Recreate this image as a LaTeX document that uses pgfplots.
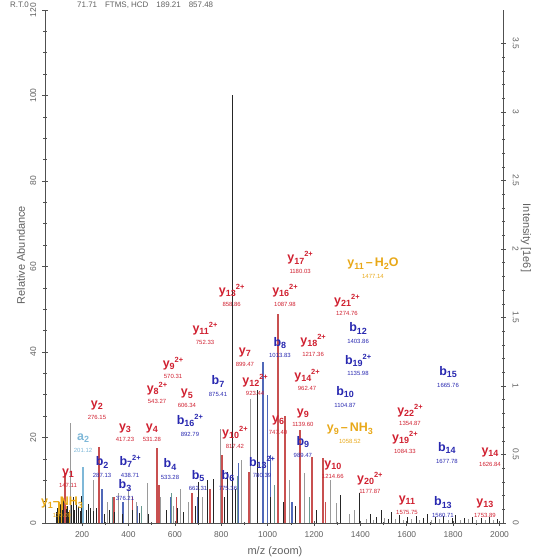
\documentclass[border=0pt]{standalone}
\usepackage{pgfplots}
\pgfplotsset{compat=1.18}
\usepackage{fontspec}
\setmainfont{Liberation Sans}
\definecolor{ionred}{HTML}{D02030}
\definecolor{ionblue}{HTML}{2828B0}
\definecolor{ionyel}{HTML}{E8A818}
\definecolor{ionlb}{HTML}{7FB8D8}
\definecolor{pkred}{HTML}{C85050}
\definecolor{pkblue}{HTML}{5068B8}
\definecolor{pkgray}{HTML}{9A9A9A}
\definecolor{pkteal}{HTML}{6A9A90}
\definecolor{axgray}{HTML}{505050}
\definecolor{lblgray}{HTML}{606060}
% x, y, color, letter, sub, sup, mass
\newcommand{\ion}[7]{\node[text=#3, align=center, inner sep=0pt, font=\fontsize{12.5}{12.5}\selectfont\bfseries] at (axis cs:#1,#2) {#4\raisebox{-0.35ex}{\fontsize{9}{9}\selectfont #5}\raisebox{0.8ex}{\fontsize{7.5}{7.5}\selectfont #6}\\[-1pt]{\fontsize{6}{6}\selectfont\mdseries #7}};}
\begin{document}
\begin{tikzpicture}
\useasboundingbox (-45bp,-37bp) rectangle (488bp,523bp);
\begin{axis}[
  at={(0,0)}, anchor=south west,
  width=458bp, height=513bp, scale only axis,
  xmin=40, xmax=2015, ymin=0, ymax=120,
  axis x line*=bottom, axis y line*=left,
  xtick={200,400,...,2000}, minor x tick num=1,
  ytick={0,20,...,120}, minor y tick num=3,
  tick align=center, major tick length=5bp, minor tick length=3bp,
  axis line style={axgray, line width=0.8pt}, tick style={axgray, line width=0.6pt},
  ticklabel style={font=\fontsize{8.5}{8.5}\selectfont, text=lblgray},
  /pgf/number format/assume math mode=true,
  /pgf/number format/set thousands separator={},
  yticklabel style={xshift=-6bp, rotate=90, anchor=south, inner sep=0pt},
  xticklabel style={anchor=north, inner sep=0pt, yshift=-6bp},
  clip=false,
]
% gray peaks
\addplot[ycomb, pkgray, line width=1pt] coordinates {
(148,23.4)(247,10)(310,5)(355,7)(398,8)(435,5)(480,9.4)(540,6)(595,4)(625,8)(660,5)(720,6)(795,22)(889,14.7)(924,29)(1096,10)(1161,11.7)(1269,10)(1299,4.7)(1352,2)(1376,3)
(1425,1.0)(1458,0.8)(1503,1.2)(1552,1.0)(1585,0.7)(1622,0.9)(1655,0.8)(1706,0.7)(1741,0.9)(1778,0.8)(1830,0.7)(1866,0.9)(1902,0.8)(1938,0.7)(1975,0.8)
};
% teal peaks
\addplot[ycomb, pkteal, line width=1pt] coordinates {
(205,5)(330,6)(455,4)(587,7)(750,8)(870,11)(1028,9)(1180,6)
};
% yellow
\addplot[ycomb, ionyel, line width=1.3pt] coordinates {
(100,5)(113,6)(130,4)(146,3)
};
% light blue
\addplot[ycomb, ionlb, line width=1.3pt] coordinates {(204,13)};
% blue
\addplot[ycomb, pkblue, line width=1.3pt] coordinates {
(286,8)(376,5)(438,4)(580,6)(700,6)(875,14)(980,37.7)(1000,30)(1013,16)(1105,5)
};
% red
\addplot[ycomb, pkred, line width=1.4pt] coordinates {
(126,11.7)(273,17.8)(338,6)(417,6)(523,17.5)(531,9)(606,6)(674,7)(752,8)(803,16)(920,12)(1045,49)(1075,25)(1140,21.8)(1191,15.4)(1239,15.2)(1250,5)
};
% black
\addplot[ycomb, black!85, line width=0.9pt] coordinates {
(88,2.5)(95,3.5)(102,2)(108,4.5)(115,3)(121,5.5)(131,3.2)(137,4)(142,2.5)(156,4.2)(163,6)(169,3)(176,5)(183,3.8)(191,2.8)(197,6.2)(219,3)(226,4.5)(236,3.6)(251,2.8)(262,3.5)(296,2.2)(318,3)(341,2.6)(372,2.2)(418,3)(446,2.4)(487,2.2)(563,3)(612,3.4)(639,2.6)(689,4)(702,9.6)(739,10)(765,10.2)(812,6)(828,12)(850,100)(862,8)(954,31)(1012,6)(1070,5)(1120,4)(1210,3)(1312,6.5)(1398,7)
(1442,2.2)(1471,1.5)(1489,3)(1520,0.9)(1536,2.5)(1568,1.8)(1601,1.4)(1640,1.6)(1672,1.2)(1690,2.0)(1723,1.3)(1760,1.7)(1795,1.1)(1812,1.9)(1848,1.2)(1884,1.5)(1920,1.1)(1957,1.3)(1993,1.0)
};
% red labels
\ion{139}{10.5}{ionred}{y}{1}{}{147.11}
\ion{264}{26.4}{ionred}{y}{2}{}{276.15}
\ion{385}{21.1}{ionred}{y}{3}{}{417.23}
\ion{501}{21.1}{ionred}{y}{4}{}{531.28}
\ion{523}{30.4}{ionred}{y}{8}{2+}{543.27}
\ion{592}{36.3}{ionred}{y}{9}{2+}{570.31}
\ion{652}{29.2}{ionred}{y}{5}{}{606.34}
\ion{730}{44.4}{ionred}{y}{11}{2+}{752.33}
\ion{845}{53.3}{ionred}{y}{13}{2+}{858.86}
\ion{1075}{53.3}{ionred}{y}{16}{2+}{1087.98}
\ion{1140}{61}{ionred}{y}{17}{2+}{1180.03}
\ion{1342}{51}{ionred}{y}{21}{2+}{1274.76}
\ion{1196}{41.6}{ionred}{y}{18}{2+}{1217.36}
\ion{1170}{33.5}{ionred}{y}{14}{2+}{962.47}
\ion{902}{38.8}{ionred}{y}{7}{}{899.47}
\ion{946}{32.3}{ionred}{y}{12}{2+}{923.44}
\ion{859}{20.1}{ionred}{y}{10}{2+}{817.42}
\ion{1045}{22.9}{ionred}{y}{6}{}{747.40}
\ion{1152}{24.6}{ionred}{y}{9}{}{1139.60}
\ion{1614}{25.3}{ionred}{y}{22}{2+}{1354.87}
\ion{1592}{18.9}{ionred}{y}{19}{2+}{1084.33}
\ion{1959}{15.4}{ionred}{y}{14}{}{1626.84}
\ion{1281}{12.4}{ionred}{y}{10}{}{1214.66}
\ion{1441}{9.4}{ionred}{y}{20}{2+}{1177.87}
\ion{1601}{4.2}{ionred}{y}{11}{}{1575.75}
\ion{1937}{3.5}{ionred}{y}{13}{}{1753.89}
% blue labels
\ion{286}{13.1}{ionblue}{b}{2}{}{287.13}
\ion{385}{7.7}{ionblue}{b}{3}{}{376.21}
\ion{407}{13.3}{ionblue}{b}{7}{2+}{438.71}
\ion{579}{12.6}{ionblue}{b}{4}{}{533.28}
\ion{700}{10}{ionblue}{b}{5}{}{662.31}
\ion{829}{10}{ionblue}{b}{6}{}{775.36}
\ion{665}{22.9}{ionblue}{b}{16}{2+}{892.79}
\ion{786}{32}{ionblue}{b}{7}{}{875.41}
\ion{1053}{41}{ionblue}{b}{8}{}{1013.83}
\ion{976}{13.1}{ionblue}{b}{13}{2+}{780.39}
\ion{1390}{44.4}{ionblue}{b}{12}{}{1403.86}
\ion{1390}{37}{ionblue}{b}{19}{2+}{1135.98}
\ion{1778}{34.2}{ionblue}{b}{15}{}{1665.76}
\ion{1334}{29.5}{ionblue}{b}{10}{}{1104.87}
\ion{1152}{17.8}{ionblue}{b}{9}{}{989.47}
\ion{1773}{16.4}{ionblue}{b}{14}{}{1677.78}
\ion{1756}{3.7}{ionblue}{b}{13}{}{1560.71}
% other labels
\ion{204}{18.7}{ionlb}{a}{2}{}{201.12}
\node[text=ionyel, align=center, inner sep=0pt, font=\fontsize{12.5}{12.5}\selectfont\bfseries] at (axis cs:1454,59.6) {y\raisebox{-0.35ex}{\fontsize{9}{9}\selectfont 11}\,--\,H\raisebox{-0.35ex}{\fontsize{9}{9}\selectfont 2}O\\[-1pt]{\fontsize{6}{6}\selectfont\mdseries 1477.14}};
\node[text=ionyel, align=center, inner sep=0pt, font=\fontsize{12.5}{12.5}\selectfont\bfseries] at (axis cs:1355,21) {y\raisebox{-0.35ex}{\fontsize{9}{9}\selectfont 9}\,--\,NH\raisebox{-0.35ex}{\fontsize{9}{9}\selectfont 3}\\[-1pt]{\fontsize{6}{6}\selectfont\mdseries 1058.52}};
\node[text=ionyel, align=center, inner sep=0pt, font=\fontsize{12.5}{12.5}\selectfont\bfseries] at (axis cs:113,3.7) {y\raisebox{-0.35ex}{\fontsize{9}{9}\selectfont 1}--NH\raisebox{-0.35ex}{\fontsize{9}{9}\selectfont 3}\\[-1pt]{\fontsize{6}{6}\selectfont\mdseries 130.09}};
\end{axis}
\begin{axis}[
  at={(0,0)}, anchor=south west,
  width=458bp, height=513bp, scale only axis,
  xmin=40, xmax=2015, ymin=0, ymax=3.745,
  axis x line=none, axis y line*=right,
  ytick={0,0.5,...,3.5}, yticklabels={0,0.5,1,1.5,2,2.5,3,3.5},
  minor y tick num=4,
  tick align=center, major tick length=5bp, minor tick length=3bp,
  axis line style={axgray, line width=0.8pt}, tick style={axgray, line width=0.6pt},
  ticklabel style={font=\fontsize{8.5}{8.5}\selectfont, text=lblgray},
  yticklabel style={xshift=7bp, rotate=-90, anchor=south, inner sep=0pt},
]
\end{axis}
\node[rotate=90, text=lblgray, font=\fontsize{11}{11}\selectfont] at (-24bp,268bp) {Relative Abundance};
\node[rotate=-90, text=lblgray, font=\fontsize{11}{11}\selectfont] at (481bp,285bp) {Intensity [1e6]};
\node[text=lblgray, font=\fontsize{11}{11}\selectfont] at (230bp,-29bp) {m/z (zoom)};
\node[anchor=base west, inner sep=0pt, text=lblgray, font=\fontsize{8}{8}\selectfont] at (-35bp,515bp) {R.T.0};
\node[anchor=base west, inner sep=0pt, text=lblgray, font=\fontsize{8}{8}\selectfont] at (32bp,515bp) {71.71\quad FTMS, HCD\quad 189.21\quad 857.48};
\end{tikzpicture}
\end{document}
